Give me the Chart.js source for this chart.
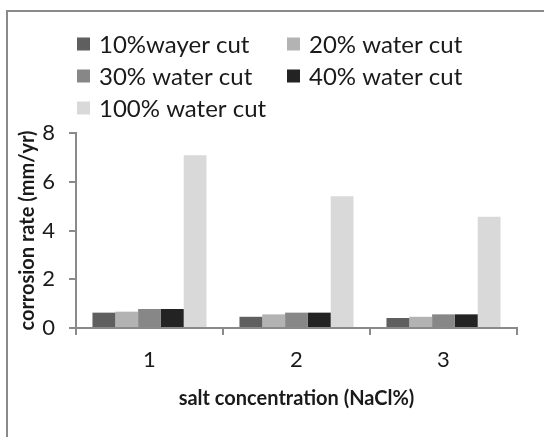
<!DOCTYPE html>
<html>
<head>
<meta charset="utf-8">
<script src="https://cdn.jsdelivr.net/npm/chart.js@4.4.0/dist/chart.umd.min.js"></script>
<style>
  html, body { margin: 0; padding: 0; background: #ffffff; }
  #wrap { width: 544px; height: 437px; position: relative; }
</style>
</head>
<body>
<div id="wrap"><canvas id="c" width="544" height="437"></canvas></div>
<script>
const categories = ['1', '2', '3'];
const seriesLabels = ['10%wayer cut', '20% water cut', '30% water cut', '40% water cut', '100% water cut'];
const cut10 = [0.63, 0.46, 0.41];
const cut20 = [0.67, 0.56, 0.46];
const cut30 = [0.78, 0.63, 0.56];
const cut40 = [0.78, 0.63, 0.56];
const cut100 = [7.09, 5.41, 4.56];
const yTicks = [0, 2, 4, 6, 8];
const xTitle = 'salt concentration (NaCl%)';
const yTitle = 'corrosion rate (mm/yr)';

const colors = ['#5f5f5f', '#b3b3b3', '#878787', '#232323', '#d9d9d9'];
const seriesValues = [cut10, cut20, cut30, cut40, cut100];
const FONT = 'Lato';
const AXIS = '#8a8a8a';

const frame = {
  id: 'frame',
  beforeDraw(chart) {
    const ctx = chart.ctx;
    ctx.save();
    ctx.fillStyle = '#ffffff';
    ctx.fillRect(0, 0, chart.width, chart.height);
    ctx.strokeStyle = '#8a8a8a';
    ctx.lineWidth = 2;
    ctx.strokeRect(7, 11, 700, 700);
    ctx.restore();
  }
};

const gridLegend = {
  id: 'gridLegend',
  afterDraw(chart) {
    const ctx = chart.ctx;
    ctx.save();
    ctx.font = '24px ' + FONT;
    ctx.textBaseline = 'middle';
    ctx.textAlign = 'left';
    const colX = [77, 287];
    chart.data.datasets.forEach((ds, i) => {
      const col = i % 2, row = Math.floor(i / 2);
      const x = colX[col];
      const y = 44 + row * 32;
      ctx.fillStyle = ds.backgroundColor;
      ctx.fillRect(x, y - 6.5, 13, 13);
      ctx.fillStyle = '#1a1a1a';
      ctx.fillText(ds.label, x + 22, y + 1);
    });
    ctx.restore();
  }
};

new Chart(document.getElementById('c'), {
  type: 'bar',
  data: {
    labels: categories,
    datasets: seriesLabels.map((lab, i) => ({
      label: lab,
      data: seriesValues[i],
      backgroundColor: colors[i],
      borderWidth: 0,
      categoryPercentage: 0.776,
      barPercentage: 1.0
    }))
  },
  options: {
    responsive: false,
    animation: false,
    devicePixelRatio: 1,
    layout: { padding: { left: 0, top: 133, right: 27, bottom: 0 } },
    plugins: { legend: { display: false }, tooltip: { enabled: false } },
    scales: {
      x: {
        offset: true,
        grid: { display: true, offset: true, drawOnChartArea: false, drawTicks: true, tickLength: 7, color: AXIS, lineWidth: 2 },
        border: { display: true, color: AXIS, width: 2 },
        ticks: { font: { family: FONT, size: 22 }, color: '#1a1a1a', padding: 12 },
        title: { display: true, text: xTitle, font: { family: FONT, size: 20, weight: 'bold' }, color: '#1a1a1a', padding: { top: 0, bottom: 26 } },
        afterFit(scale) { scale.height = 109; }
      },
      y: {
        min: 0, max: 8,
        afterBuildTicks(scale) { scale.ticks = yTicks.map(v => ({ value: v })); },
        grid: { display: true, drawOnChartArea: false, drawTicks: true, tickLength: 7, color: AXIS, lineWidth: 2 },
        border: { display: true, color: AXIS, width: 2 },
        ticks: { font: { family: FONT, size: 22 }, color: '#1a1a1a', padding: 14 },
        title: { display: true, text: yTitle, font: { family: FONT, size: 20, weight: 'bold' }, color: '#1a1a1a', padding: { top: 16, bottom: 0 } },
        afterFit(scale) { scale.width = 76; }
      }
    }
  },
  plugins: [frame, gridLegend]
});
</script>
</body>
</html>
